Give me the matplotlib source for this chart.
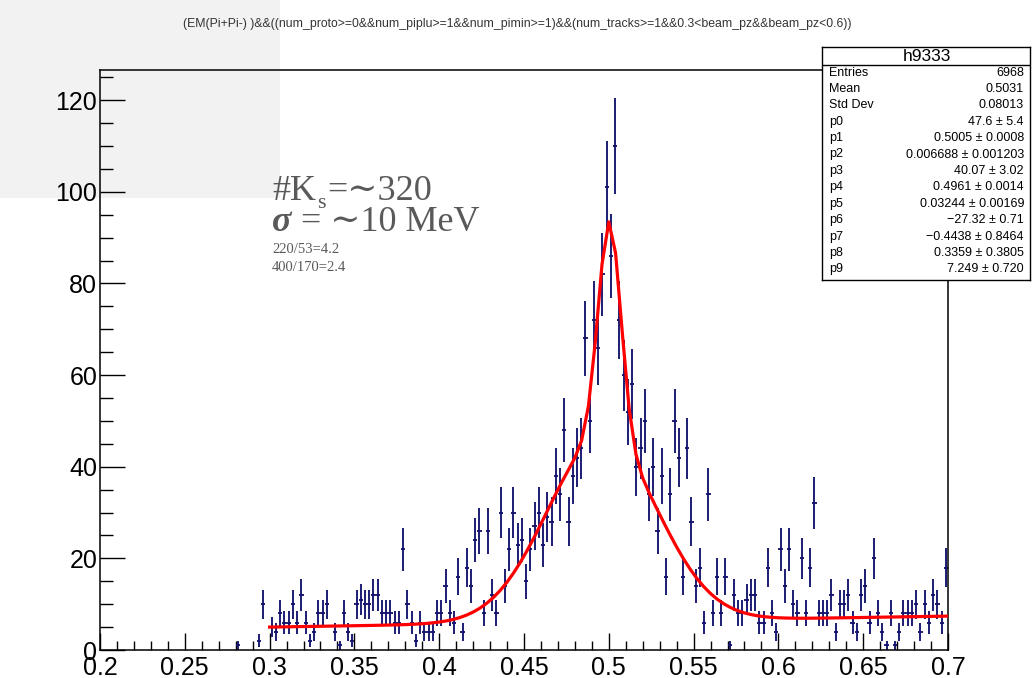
import numpy as np
import matplotlib.pyplot as plt
from matplotlib.patches import Rectangle
from matplotlib.ticker import MultipleLocator, FuncFormatter

W, H = 1032, 678

title = ("(EM(Pi+Pi-) )&&((num_proto>=0&&num_piplu>=1&&num_pimin>=1)"
         "&&(num_tracks>=1&&0.3<beam_pz&&beam_pz<0.6))")

# h9333: 200 bins over [0.2, 0.7], ten bins per row
x_min, x_max, n_bins = 0.2, 0.7, 200
counts = [
    0, 0, 0, 0, 0, 0, 0, 0, 0, 0,
    0, 0, 0, 0, 0, 0, 0, 0, 0, 0,
    0, 0, 0, 0, 0, 0, 0, 0, 0, 0,
    0, 0, 1, 0, 0, 0, 0, 2, 10, 0,
    5, 4, 8, 6, 6, 10, 6, 12, 6, 2,
    4, 8, 8, 10, 0, 4, 1, 8, 4, 2,
    10, 11, 10, 10, 12, 12, 8, 8, 8, 6,
    6, 22, 10, 6, 2, 6, 4, 4, 4, 8,
    8, 14, 8, 6, 16, 4, 18, 14, 24, 26,
    8, 26, 12, 8, 30, 14, 22, 30, 23, 24,
    15, 22, 27, 30, 23, 29, 28, 38, 34, 48,
    28, 38, 42, 44, 68, 50, 72, 66, 82, 101,
    86, 110, 72, 60, 52, 58, 40, 44, 50, 34,
    40, 26, 38, 16, 34, 50, 42, 16, 44, 28,
    14, 18, 6, 34, 8, 16, 8, 16, 1, 12,
    8, 8, 11, 12, 12, 6, 6, 18, 8, 4,
    22, 14, 22, 10, 8, 20, 8, 18, 32, 8,
    8, 8, 12, 4, 10, 10, 12, 6, 4, 12,
    14, 6, 20, 8, 4, 1, 8, 1, 4, 8,
    8, 8, 10, 4, 10, 6, 12, 10, 6, 18,
]

# fit: gaus(p0,p1,p2) + gaus(p3,p4,p5) + slowly rising background
fit_pars = [47.6, 0.5005, 0.006688, 40.07, 0.4961, 0.03244]
bkg_lo, bkg_hi = 5.0, 7.4   # background level at the two ends of the range
fit_lo, fit_hi = 0.3, 0.7

stat_names = ["Entries", "Mean", "Std Dev", "p0", "p1", "p2", "p3", "p4",
              "p5", "p6", "p7", "p8", "p9"]
stat_values = ["6968", "0.5031", "0.08013", "47.6 \u00b1 5.4",
               "0.5005 \u00b1 0.0008", "0.006688 \u00b1 0.001203",
               "40.07 \u00b1 3.02", "0.4961 \u00b1 0.0014",
               "0.03244 \u00b1 0.00169", "\u221227.32 \u00b1 0.71",
               "\u22120.4438 \u00b1 0.8464", "0.3359 \u00b1 0.3805",
               "7.249 \u00b1 0.720"]

navy = "#14146e"
note_color = "#595959"
sans = ["Liberation Sans", "DejaVu Sans"]
serif = ["Liberation Serif", "DejaVu Serif"]


def gaus(x, a, m, s):
    return a * np.exp(-0.5 * ((x - m) / s) ** 2)


def fit_func(x):
    bkg = bkg_lo + (bkg_hi - bkg_lo) * (x - fit_lo) / (fit_hi - fit_lo)
    return gaus(x, *fit_pars[:3]) + gaus(x, *fit_pars[3:6]) + bkg


def px(x, y):
    return x / W, 1 - y / H


fig = plt.figure(figsize=(W / 100, H / 100), dpi=100)
fig.patch.set_facecolor("white")
# light grey block in the top-left corner, under the axes
fig.patches.append(Rectangle((0, 1 - 198 / H), 280 / W, 198 / H,
                             transform=fig.transFigure, facecolor="#f2f2f2",
                             edgecolor="none", zorder=-1))

ax = fig.add_axes([100 / W, 28 / H, 848 / W, 580 / H])
ax.set_facecolor("none")

edges = np.linspace(x_min, x_max, n_bins + 1)
centers = 0.5 * (edges[:-1] + edges[1:])
y = np.array(counts, dtype=float)
keep = y > 0
ax.errorbar(centers[keep], y[keep], xerr=(x_max - x_min) / n_bins / 2,
            yerr=np.sqrt(y[keep]), fmt="none", ecolor=navy,
            elinewidth=1.35, capsize=0, zorder=2)

xs = np.linspace(fit_lo, fit_hi, 101)
ax.plot(xs, fit_func(xs), color="red", lw=2.3, zorder=3)

ax.set_xlim(x_min, x_max)
ax.set_ylim(0, 126.6)
ax.xaxis.set_major_locator(MultipleLocator(0.05))
ax.xaxis.set_minor_locator(MultipleLocator(0.01))
ax.yaxis.set_major_locator(MultipleLocator(20))
ax.yaxis.set_minor_locator(MultipleLocator(5))
ax.xaxis.set_major_formatter(FuncFormatter(lambda v, p: "%g" % round(v, 3)))
ax.tick_params(which="both", direction="in", top=False, right=False,
               width=1.0, labelsize=18)
ax.tick_params(axis="x", which="major", length=12.5, pad=4)
ax.tick_params(axis="x", which="minor", length=6.3)
ax.tick_params(axis="y", which="major", length=18, pad=2)
ax.tick_params(axis="y", which="minor", length=9)
for lab in ax.get_xticklabels() + ax.get_yticklabels():
    lab.set_family(sans)
for sp in ax.spines.values():
    sp.set_linewidth(1.1)

fig.text(*px(517, 27), title, ha="center", va="baseline", fontsize=8.8,
         family=sans, color="#333333")

# stats box
sx0, sy0, sx1, sy1 = 822, 47, 1030, 280
sax = fig.add_axes([sx0 / W, 1 - sy1 / H, (sx1 - sx0) / W, (sy1 - sy0) / H])
sax.set_xlim(sx0, sx1)
sax.set_ylim(sy1, sy0)
sax.set_xticks([])
sax.set_yticks([])
sax.set_facecolor("white")
for sp in sax.spines.values():
    sp.set_linewidth(1.0)
sax.text(927, 56.5, "h9333", ha="center", va="center", fontsize=12.5,
         family=sans)
sax.axhline(65, color="black", lw=1.0)
for k, (name, val) in enumerate(zip(stat_names, stat_values)):
    yy = 72.5 + 16.4 * k
    sax.text(829, yy, name, ha="left", va="center", fontsize=9,
             family=sans)
    sax.text(1024, yy, val, ha="right", va="center", fontsize=9,
             family=sans)

# notes
fig.canvas.draw()
rend = fig.canvas.get_renderer()
big = 26


def after(t):
    bb = t.get_window_extent(renderer=rend)
    return bb.x1 / W


t1 = fig.text(*px(272, 200), "#K", fontsize=big, family=serif,
              color=note_color, va="baseline")
t2 = fig.text(after(t1) + 1 / W, 1 - 208 / H, "s", fontsize=16,
              family=serif, color=note_color, va="baseline")
fig.text(after(t2) + 2 / W, 1 - 200 / H, "=\u223c320", fontsize=big,
         family=serif, color=note_color, va="baseline")

s1 = fig.text(*px(272, 231), "\u03c3", fontsize=big, family=serif,
              weight="bold", style="italic", color=note_color,
              va="baseline")
fig.text(after(s1), 1 - 231 / H, " = \u223c10 MeV", fontsize=big,
         family=serif, color=note_color, va="baseline")

fig.text(*px(272, 253), "220/53=4.2", fontsize=10.5, family=serif,
         color=note_color, va="baseline")
fig.text(*px(272, 271), "400/170=2.4", fontsize=10.5, family=serif,
         color=note_color, va="baseline")

fig.savefig("out.png", dpi=100)
